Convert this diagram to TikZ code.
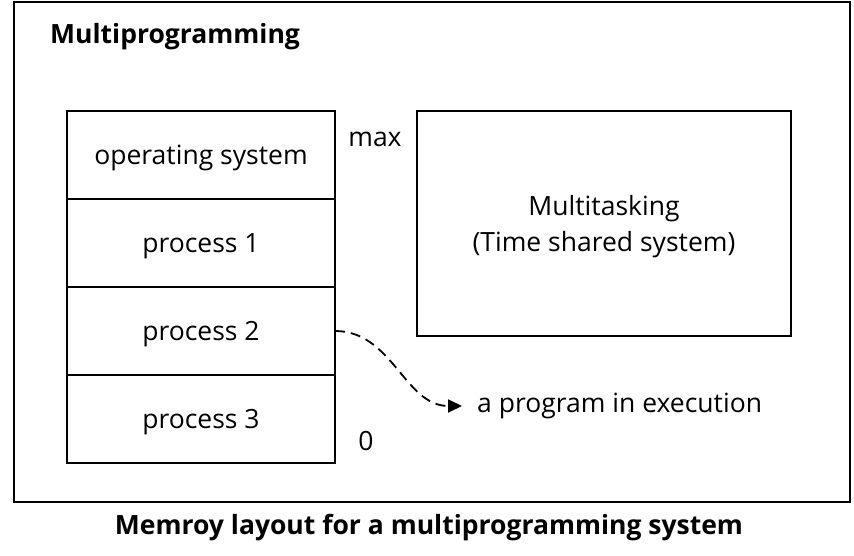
\documentclass[tikz,border=0pt]{standalone}
\usepackage{fontspec}
\setmainfont{Open Sans}
\usetikzlibrary{positioning,arrows.meta}

\tikzset{
  memblock/.style={draw, line width=1.8pt, outer sep=0pt, inner sep=0pt, text depth=0pt,
    minimum width=268pt, minimum height=88pt, font=\fontsize{26.5}{36}\selectfont},
  lbl/.style={font=\fontsize{26.5}{36}\selectfont},
  heading/.style={font=\bfseries\fontsize{26.5}{30}\selectfont},
}

\begin{document}
\begin{tikzpicture}[x=1pt,y=-1pt]
        \useasboundingbox (0,0) rectangle (854,556);
        % Frame
        \draw[line width=1.8pt] (14,2) rectangle (850,502);
        \node[heading, anchor=west, inner sep=0pt] (title) at (50,37) {Multiprogramming};
        % Memory layout
        \node[memblock] (os) at (201,155) {operating system};
        \node[memblock, below=0pt of os] (p1) {process 1};
        \node[memblock, below=0pt of p1] (p2) {process 2};
        \node[memblock, below=0pt of p2] (p3) {process 3};
        \node[lbl] (max) at (375,139) {max};
        \node[lbl] (zero) at (366,441) {0};
        % Multitasking
        \node[memblock, minimum width=374pt, minimum height=225pt, align=center] (mt) at (604,223.5)
            {Multitasking\\(Time shared system)};
        % Arrow
        \node[lbl, anchor=west, inner xsep=15pt, inner ysep=0pt] (exec) at (462,406) {a program in execution};
        \draw[line width=1.8pt, dash pattern=on 10pt off 6pt, -{Triangle[length=14pt,width=13pt]}]
            (p2.east) to[out=0, in=180] (exec.west);
        % Caption
        \node[heading] (caption) at (429,528) {Memroy layout for a multiprogramming system};
\end{tikzpicture}
\end{document}
